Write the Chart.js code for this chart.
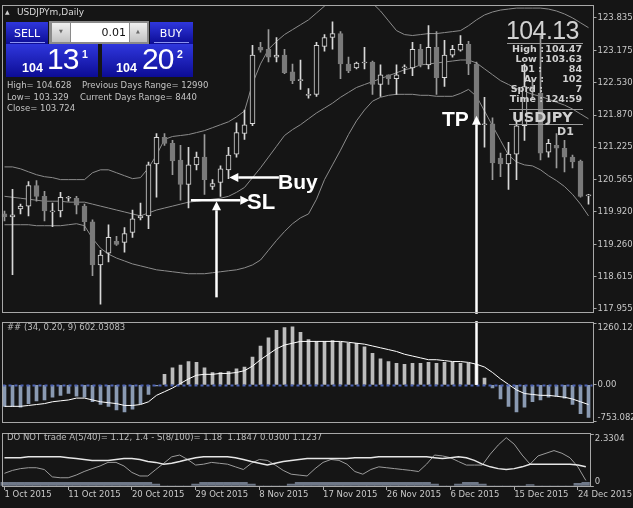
<!DOCTYPE html>
<html>
<head>
<meta charset="utf-8">
<title>USDJPYm,Daily</title>
<script src="https://cdn.jsdelivr.net/npm/chart.js@4.4.1/dist/chart.umd.min.js"></script>
<style>
  html, body { margin: 0; padding: 0; background: #151515; }
  body { width: 633px; height: 508px; position: relative; overflow: hidden; font-family: "DejaVu Sans", sans-serif; }
  canvas { position: absolute; left: 0; }
  #cMain { top: 0; }
  #cMacd { top: 317px; }
  #cLow { top: 428px; }
  .tx { position: absolute; white-space: nowrap; line-height: 1; transform: translateY(-50%); color: #c4c4c4; font-size: 8.5px; z-index: 6; }
  .r { transform: translate(-100%, -50%); }
  .c { transform: translate(-50%, -50%); }
  .b { font-weight: bold; font-size: 9.5px; color: #d0d0d0; }
  .box { position: absolute; z-index: 4; }
  .blue { background: linear-gradient(#2f37dd, #0c0c94); }
  .btn { background: linear-gradient(#f0f0f0, #c2c2c2); }
  .big { font-family: "Liberation Sans", sans-serif; color: #fff; }
  .note { font-family: "Liberation Sans", sans-serif; font-weight: bold; color: #fff; }
</style>
</head>
<body>
<canvas id="cMain" width="633" height="318"></canvas>
<canvas id="cMacd" width="633" height="111"></canvas>
<canvas id="cLow" width="633" height="80"></canvas>

<!-- header -->
<div class="tx" style="left:5px;top:12px;font-size:6px;color:#d0d0d0">&#9650;</div>
<div class="tx" style="left:17px;top:12px;font-size:9px;color:#d8d8d8">USDJPYm,Daily</div>

<!-- trade panel -->
<div class="box blue" style="left:6px;top:22px;width:42px;height:22px"></div>
<div class="box blue" style="left:150px;top:22px;width:43px;height:22px"></div>
<div class="box blue" style="left:6px;top:44px;width:92px;height:33px"></div>
<div class="box blue" style="left:102px;top:44px;width:91px;height:33px"></div>
<div class="box" style="left:10px;top:42px;width:35px;height:1px;background:#8c94f2"></div>
<div class="box" style="left:154px;top:42px;width:35px;height:1px;background:#8c94f2"></div>
<div class="box" style="left:49px;top:21px;width:100px;height:23px;background:#8a8a8a"></div>
<div class="box btn" style="left:52px;top:23px;width:18px;height:19px"></div>
<div class="box" style="left:71px;top:23px;width:58px;height:19px;background:#ffffff"></div>
<div class="box btn" style="left:130px;top:23px;width:17px;height:19px"></div>
<div class="tx c" style="left:61px;top:31px;font-size:5px;color:#6a6a6a">&#9660;</div>
<div class="tx c" style="left:138px;top:31px;font-size:5px;color:#6a6a6a">&#9650;</div>
<div class="tx r" style="left:126px;top:32px;font-size:11px;color:#111">0.01</div>
<div class="tx c" style="left:27px;top:33px;font-size:11px;color:#fff">SELL</div>
<div class="tx c" style="left:171px;top:33px;font-size:11px;color:#fff">BUY</div>
<div class="tx big" style="left:22px;top:68px;font-size:12.5px;font-weight:bold">104</div>
<div class="tx big" style="left:47px;top:59px;font-size:30px;letter-spacing:-1px">13</div>
<div class="tx big" style="left:82px;top:54px;font-size:10.5px;font-weight:bold">1</div>
<div class="tx big" style="left:116px;top:68px;font-size:12.5px;font-weight:bold">104</div>
<div class="tx big" style="left:142px;top:59px;font-size:30px;letter-spacing:-1px">20</div>
<div class="tx big" style="left:177px;top:54px;font-size:10.5px;font-weight:bold">2</div>
<div class="tx" style="left:7px;top:85px">High= 104.628</div>
<div class="tx" style="left:82px;top:85px">Previous Days Range= 12990</div>
<div class="tx" style="left:7px;top:97px">Low= 103.329</div>
<div class="tx" style="left:80px;top:97px">Current Days Range= 8440</div>
<div class="tx" style="left:7px;top:108px">Close= 103.724</div>

<!-- info block -->
<div class="tx" style="left:506px;top:30px;font-family:'Liberation Sans';font-size:25px;letter-spacing:-0.6px;color:#d2d2d2">104.13</div>
<div class="box" style="left:507px;top:43px;width:76px;height:1px;background:#9a9a9a"></div>
<div class="tx b r" style="left:544px;top:49px">High :</div><div class="tx b r" style="left:582px;top:49px">104.47</div>
<div class="tx b r" style="left:544px;top:59px">Low :</div><div class="tx b r" style="left:582px;top:59px">103.63</div>
<div class="tx b r" style="left:542px;top:69px">D1 :</div><div class="tx b r" style="left:582px;top:69px">84</div>
<div class="tx b r" style="left:544px;top:79px">Av :</div><div class="tx b r" style="left:582px;top:79px">102</div>
<div class="tx b r" style="left:543px;top:89px">Sprd :</div><div class="tx b r" style="left:582px;top:89px">7</div>
<div class="tx b r" style="left:543px;top:99px">Time :</div><div class="tx b r" style="left:582px;top:99px">124:59</div>
<div class="box" style="left:509px;top:109px;width:74px;height:1px;background:#9a9a9a"></div>
<div class="tx b" style="left:512px;top:117px;font-size:14.5px">USDJPY</div>
<div class="box" style="left:509px;top:124px;width:74px;height:1px;background:#9a9a9a"></div>
<div class="tx b" style="left:557px;top:131px;font-size:11px">D1</div>

<!-- trade notes -->
<div class="tx note" style="left:278px;top:181px;font-size:21px">Buy</div>
<div class="tx note" style="left:247px;top:202px;font-size:22px">SL</div>
<div class="tx note" style="left:442px;top:118px;font-size:21px">TP</div>

<!-- sub window titles -->
<div class="tx" style="left:7px;top:327px;color:#bcbcbc">## (34, 0.20, 9) 602.03083</div>
<div class="tx" style="left:7px;top:437px;color:#bcbcbc">DO NOT trade A(5/40)= 1.12, 1.4 - S(8/100)= 1.18&nbsp; 1.1847 0.0300 1.1237</div>

<script>
// trading days (Sunday..Friday bars)
const octDays = [1,2,4,5,6,7,8,9,11,12,13,14,15,16,18,19,20,21,22,23,25,26,27,28,29,30];
const novDays = [1,2,3,4,5,6,8,9,10,11,12,13,15,16,17,18,19,20,22,23,24,25,26,27,29,30];
const decDays = [1,2,3,4,6,7,8,9,10,11,13,14,15,16,17,18,20,21,22,23,24,25];
const dates = [
  ...octDays.map(d => d + ' Oct 2015'),
  ...novDays.map(d => d + ' Nov 2015'),
  ...decDays.map(d => d + ' Dec 2015')
];

// price candles
const openP = [119.875,119.816,119.974,120.033,120.449,120.231,119.934,119.934,120.192,120.192,
  120.033,119.717,118.845,119.083,119.321,119.301,119.499,119.796,119.835,120.885,
  121.420,121.301,120.964,120.469,120.865,121.023,120.429,120.509,120.766,121.083,
  121.499,121.697,123.241,123.201,123.043,123.083,122.746,122.588,122.291,122.291,
  123.261,123.439,123.518,122.904,122.825,122.924,122.944,122.489,122.687,122.607,
  122.825,122.825,123.201,122.885,123.241,122.627,123.083,123.182,123.300,122.904,
  121.697,121.697,121.004,120.885,121.083,121.657,122.449,122.310,121.122,121.261,
  121.202,121.023,120.944,120.251];
const highP = [119.934,120.370,120.073,120.528,120.548,120.330,120.093,120.311,120.231,120.231,
  120.073,119.756,119.142,119.657,119.420,119.598,119.954,120.093,120.924,121.499,
  121.499,121.360,121.261,121.221,121.122,121.479,120.568,120.845,121.221,121.716,
  121.974,123.281,123.340,123.597,123.439,123.201,122.904,122.984,122.409,123.340,
  123.498,123.756,123.558,123.043,122.944,123.241,122.964,122.885,122.687,122.885,
  122.885,123.340,123.300,123.677,123.558,123.380,123.281,123.479,123.360,122.944,
  122.231,121.815,121.103,121.320,121.756,122.904,122.600,123.479,121.380,121.499,
  121.360,121.063,120.964,120.271];
const lowP = [119.736,118.647,119.875,119.835,120.132,119.736,119.618,119.816,120.132,119.875,
  119.538,118.628,118.053,118.905,119.241,119.103,119.400,119.756,119.578,120.212,
  121.261,120.667,120.152,119.994,120.766,120.271,120.370,120.231,120.588,121.023,
  121.380,121.657,123.142,122.944,122.944,122.706,122.508,122.390,122.211,122.251,
  123.162,123.201,122.607,122.726,122.805,122.805,122.291,122.251,122.489,122.291,
  122.706,122.667,122.845,122.805,122.291,122.449,123.043,123.162,122.687,121.657,
  121.221,120.568,120.627,120.370,120.568,121.360,122.200,120.964,121.023,120.806,
  120.726,120.806,120.212,120.073];
const closeP = [119.816,119.855,120.033,120.449,120.231,119.934,119.915,120.212,120.212,120.053,
  119.717,118.845,119.043,119.400,119.261,119.479,119.776,119.835,120.865,121.420,
  121.301,120.944,120.469,120.865,121.023,120.568,120.489,120.786,121.063,121.518,
  121.677,123.083,123.182,123.043,123.083,122.726,122.568,122.568,122.271,123.281,
  123.439,123.518,122.904,122.766,122.924,122.934,122.489,122.687,122.607,122.687,
  122.835,123.201,122.885,123.241,122.627,123.083,123.201,123.300,122.904,121.716,
  121.677,120.905,120.885,121.083,121.657,122.449,122.410,121.103,121.301,121.202,
  121.023,120.924,120.231,120.241];

// bollinger bands
const bbUpper = [120.825,120.825,120.786,120.726,120.667,120.627,120.608,120.568,120.568,120.568,
  120.568,120.707,120.766,120.766,120.707,120.647,120.588,120.608,120.806,121.063,
  121.380,121.439,121.459,121.479,121.518,121.558,121.617,121.677,121.736,121.835,
  121.954,122.508,122.904,123.201,123.360,123.498,123.597,123.696,123.795,123.934,
  124.073,124.191,124.251,124.290,124.271,124.211,124.132,123.974,123.776,123.578,
  123.498,123.479,123.498,123.518,123.518,123.538,123.558,123.578,123.677,123.795,
  123.894,123.954,123.993,124.013,124.033,124.033,124.033,124.033,124.013,123.974,
  123.914,123.835,123.736,123.637];
const bbMiddle = [120.231,120.212,120.192,120.172,120.152,120.132,120.132,120.132,120.113,120.113,
  120.113,120.073,120.033,119.994,119.954,119.915,119.875,119.835,119.895,119.954,
  119.994,120.033,120.073,120.113,120.132,120.152,120.172,120.192,120.231,120.311,
  120.410,120.608,120.806,121.023,121.241,121.459,121.578,121.677,121.796,121.914,
  122.013,122.112,122.231,122.330,122.429,122.489,122.548,122.607,122.667,122.726,
  122.786,122.825,122.885,122.904,122.924,122.944,122.964,122.984,122.984,122.924,
  122.805,122.687,122.568,122.489,122.409,122.350,122.291,122.251,122.192,122.132,
  122.073,121.994,121.895,121.796];
const bbLower = [119.657,119.657,119.657,119.657,119.637,119.637,119.637,119.637,119.657,119.677,
  119.637,119.380,119.182,119.063,118.984,118.925,118.865,118.826,118.786,118.746,
  118.727,118.707,118.687,118.667,118.667,118.667,118.687,118.707,118.727,118.746,
  118.786,118.845,118.944,119.142,119.340,119.519,119.677,119.796,119.875,120.172,
  120.568,120.865,121.162,121.479,121.756,121.974,122.152,122.231,122.271,122.291,
  122.291,122.291,122.271,122.271,122.251,122.251,122.251,122.310,122.390,122.251,
  121.954,121.657,121.360,121.063,120.924,120.865,120.845,120.766,120.647,120.548,
  120.429,120.271,120.073,119.835];
const priceTicks = [123.835,123.175,122.530,121.870,121.225,120.565,119.920,119.260,118.615,117.955];

// oscillator window
const histVals = [-436,-436,-455,-380,-324,-306,-250,-212,-175,-231,
  -250,-343,-399,-436,-511,-548,-492,-380,-194,-20,
  216,347,403,477,459,347,254,254,272,328,
  365,570,794,962,1111,1167,1185,1074,925,887,
  887,906,869,850,850,775,645,533,477,440,
  421,440,440,459,440,459,459,440,440,421,
  142,-63,-287,-436,-548,-455,-343,-306,-250,-231,
  -268,-399,-585,-660];
const signalVals = [-436,-436,-436,-418,-399,-380,-343,-324,-306,-268,
  -268,-306,-343,-362,-380,-418,-418,-399,-343,-212,
  -138,-63,30,123,198,216,216,235,235,254,
  291,384,514,626,738,813,850,887,887,887,
  887,887,887,869,850,831,794,757,720,682,
  626,589,552,514,514,496,477,477,459,421,
  365,254,123,11,-101,-175,-194,-212,-212,-231,
  -250,-287,-343,-399];
const macdTicks = [1260.121, 0, -753.082];

// "do not trade" window
const slowLine = [1.27,1.27,1.27,1.31,1.31,1.31,1.31,1.31,1.27,1.23,
  1.19,1.15,1.15,1.15,1.19,1.23,1.23,1.19,1.10,1.06,
  0.98,1.02,1.10,1.19,1.27,1.31,1.31,1.31,1.31,1.27,
  1.19,1.10,1.02,0.94,1.02,1.10,1.15,1.19,1.23,1.23,
  1.23,1.23,1.23,1.23,1.27,1.27,1.27,1.31,1.31,1.31,
  1.31,1.31,1.31,1.31,1.27,1.23,1.27,1.31,1.27,1.15,
  0.98,0.86,0.78,0.74,0.78,0.86,0.98,0.98,0.98,0.98,
  0.98,0.98,0.94,0.86];
const fastLine = [0.57,0.70,0.78,0.82,0.82,0.74,0.41,0.37,0.37,0.49,
  0.65,0.78,0.90,1.06,1.06,0.90,0.61,0.45,0.45,0.74,
  1.02,1.31,1.39,1.19,0.94,0.98,1.06,1.02,0.98,0.86,
  0.74,1.02,1.19,1.15,0.94,0.70,0.53,0.49,0.45,0.78,
  1.06,1.19,1.15,0.98,0.65,0.53,0.74,0.86,0.82,0.78,
  0.74,0.70,0.65,0.98,1.39,1.35,1.27,1.10,0.94,0.94,
  0.94,1.43,1.84,2.17,1.88,1.39,0.98,1.35,1.47,1.59,
  1.47,1.27,0.86,0.25];
const zoneVals = [0.16,0.16,0.16,0.16,0.16,0.16,0.16,0.16,0.16,0.16,
  0.16,0.16,0.16,0.16,0.16,0.16,0.16,0.16,0.16,0.09,
  0,0,0,0,0.09,0.16,0.16,0.16,0.16,0.16,
  0.16,0.09,0,0,0,0,0.09,0.16,0.16,0.16,
  0.16,0.16,0.16,0.16,0.16,0.16,0.16,0.16,0.16,0.16,
  0.16,0.16,0.16,0.16,0.09,0,0,0.09,0.16,0.16,
  0.09,0,0,0,0,0,0.06,0,0,0,
  0,0,0.12,0.16];
const lowTicks = [2.3304, 0];

// colours
const BG = '#151515', FRAME = '#a8a8a8', LABEL = '#c8c8c8';
const BULL = '#d8d8d8', BEAR = '#7a7a7a', BEAR_WICK = '#9a9a9a', BAND = '#8c8c8c';

const bull = openP.map((o, i) => closeP[i] >= o || Math.abs(closeP[i] - o) < 0.03);
const bodies = openP.map((o, i) => [o, closeP[i]]);
const wicks = lowP.map((l, i) => [l, highP[i]]);

Chart.defaults.font.family = 'DejaVu Sans';
Chart.defaults.animation = false;

// panel frame
const frame = {
  id: 'frame',
  afterDraw(c) {
    const a = c.chartArea, ctx = c.ctx;
    ctx.save();
    ctx.strokeStyle = FRAME;
    ctx.lineWidth = 1;
    ctx.strokeRect(2.5, Math.round(a.top) - 0.5, Math.round(a.right) - 2, Math.round(a.bottom - a.top) + 1);
    ctx.restore();
  }
};

// MT4 puts the edge values inside the window
const edgeLabels = {
  id: 'edgeLabels',
  beforeDraw(c) {
    const s = c.scales.y;
    const items = s.getLabelItems();
    items.forEach((it, k) => {
      const v = s.ticks[k] && s.ticks[k].value;
      if (v === s.max) it.options.textBaseline = 'top';
      if (v === s.min) it.options.textBaseline = 'bottom';
    });
  }
};

function drawArrow(ctx, x1, y1, x2, y2, head) {
  const ang = Math.atan2(y2 - y1, x2 - x1), L = head ? 9 : 0, W = 4.5;
  const bx = x2 - L * Math.cos(ang), by = y2 - L * Math.sin(ang);
  ctx.beginPath(); ctx.moveTo(x1, y1); ctx.lineTo(bx, by); ctx.stroke();
  if (!head) return;
  ctx.beginPath();
  ctx.moveTo(x2, y2);
  ctx.lineTo(bx - W * Math.sin(ang), by + W * Math.cos(ang));
  ctx.lineTo(bx + W * Math.sin(ang), by - W * Math.cos(ang));
  ctx.closePath(); ctx.fill();
}

// trade arrows, anchored on bar index / value
const notes = {
  id: 'notes',
  afterDatasetsDraw(c, args, o) {
    if (!o.arrows) return;
    const {ctx, chartArea: a, scales: {x, y}} = c;
    const py = v => v === 'top' ? a.top - 2 : v === 'bottom' ? a.bottom + 2 : y.getPixelForValue(v);
    ctx.save();
    ctx.strokeStyle = '#ffffff'; ctx.fillStyle = '#ffffff'; ctx.lineWidth = 2.5;
    o.arrows.forEach(ar => {
      drawArrow(ctx, x.getPixelForValue(ar.from[0]), py(ar.from[1]),
                x.getPixelForValue(ar.to[0]), py(ar.to[1]), ar.head !== false);
    });
    ctx.restore();
  }
};

// dotted zero level
const zeroLevel = {
  id: 'zeroLevel',
  afterDatasetsDraw(c, args, o) {
    if (!o.color) return;
    const {ctx, chartArea: a, scales: {y}} = c;
    const yy = Math.round(y.getPixelForValue(0)) + 0.5;
    ctx.save();
    ctx.strokeStyle = o.color; ctx.lineWidth = 2; ctx.setLineDash([3, 3]);
    ctx.beginPath(); ctx.moveTo(a.left + 2, yy); ctx.lineTo(a.right, yy); ctx.stroke();
    ctx.restore();
  }
};

function yAxis(min, max, ticks, fmt) {
  return {
    position: 'right', min: min, max: max,
    afterBuildTicks: s => { s.ticks = ticks.map(v => ({ value: v })); },
    afterFit: s => { s.width = 40.5; },
    grid: { drawOnChartArea: false, drawTicks: true, tickLength: 4, tickColor: FRAME, tickWidth: 1 },
    border: { display: false },
    ticks: { color: LABEL, padding: 1, autoSkip: false, font: { size: 8.5 }, callback: fmt }
  };
}
const hiddenX = { display: false, offset: true };
const basePlugins = { legend: { display: false }, tooltip: { enabled: false } };

new Chart(document.getElementById('cMain'), {
  type: 'bar',
  data: {
    labels: dates,
    datasets: [
      { type: 'bar', label: 'Body', data: bodies, grouped: false, barThickness: 5, minBarLength: 1,
        borderWidth: 1, borderSkipped: false, order: 1,
        backgroundColor: bull.map(b => b ? BG : BEAR), borderColor: bull.map(b => b ? BULL : BEAR) },
      { type: 'bar', label: 'Wick', data: wicks, grouped: false, barThickness: 1, order: 2,
        backgroundColor: bull.map(b => b ? BULL : BEAR_WICK) },
      { type: 'line', label: 'Upper', data: bbUpper, borderColor: BAND, borderWidth: 1, pointRadius: 0, order: 3 },
      { type: 'line', label: 'Middle', data: bbMiddle, borderColor: BAND, borderWidth: 1, pointRadius: 0, order: 3 },
      { type: 'line', label: 'Lower', data: bbLower, borderColor: BAND, borderWidth: 1, pointRadius: 0, order: 3 }
    ]
  },
  options: {
    responsive: false, devicePixelRatio: 1,
    layout: { padding: { left: 0.5, top: 3, right: 0, bottom: 3 } },
    scales: {
      x: hiddenX,
      y: yAxis(117.896, 124.073, priceTicks, v => v.toFixed(3))
    },
    plugins: Object.assign({}, basePlugins, {
      notes: { arrows: [
        { from: [34.3, 120.61], to: [28.1, 120.61] },
        { from: [23.3, 120.15], to: [30.6, 120.15] },
        { from: [26.5, 118.19], to: [26.5, 120.13] },
        { from: [59, 'bottom'], to: [59, 121.86] }
      ] }
    })
  },
  plugins: [frame, edgeLabels, notes]
});

new Chart(document.getElementById('cMacd'), {
  type: 'bar',
  data: {
    labels: dates,
    datasets: [
      { type: 'line', label: 'Signal', data: signalVals, borderColor: '#ffffff', borderWidth: 1, pointRadius: 0, order: 0 },
      { type: 'bar', label: 'Histogram', data: histVals, barThickness: 3, order: 1,
        backgroundColor: histVals.map(v => v >= 0 ? '#bcbcbc' : '#8a9ab2') }
    ]
  },
  options: {
    responsive: false, devicePixelRatio: 1,
    layout: { padding: { left: 0.5, top: 1, right: 0, bottom: 2 } },
    scales: {
      x: hiddenX,
      y: yAxis(-753.082, 1260.121, macdTicks, v => v === 0 ? '0.00' : v.toFixed(3))
    },
    plugins: Object.assign({}, basePlugins, {
      zeroLevel: { color: '#4d63b4' },
      notes: { arrows: [ { from: [59, 'top'], to: [59, 0], head: false } ] }
    })
  },
  plugins: [frame, edgeLabels, zeroLevel, notes]
});

new Chart(document.getElementById('cLow'), {
  type: 'bar',
  data: {
    labels: dates,
    datasets: [
      { type: 'line', label: 'A', data: slowLine, borderColor: '#e6e6e6', borderWidth: 1.5, pointRadius: 0, order: 0 },
      { type: 'line', label: 'S', data: fastLine, borderColor: '#9c9c9c', borderWidth: 1, pointRadius: 0, order: 1 },
      { type: 'bar', label: 'Zone', data: zoneVals, barPercentage: 1, categoryPercentage: 1, order: 2,
        backgroundColor: '#6f7888' }
    ]
  },
  options: {
    responsive: false, devicePixelRatio: 1,
    layout: { padding: { left: 0.5, top: 1, right: 0, bottom: 4 } },
    scales: {
      x: {
        type: 'category', offset: true,
        afterBuildTicks: s => { s.ticks = s.ticks.filter(t => t.value % 8 === 0); },
        afterFit: s => { s.height = 18; },
        grid: { display: true, drawOnChartArea: false, drawTicks: true, tickLength: 4, tickColor: FRAME, offset: false },
        border: { display: false },
        ticks: { color: LABEL, padding: 0, align: 'start', maxRotation: 0, autoSkip: false, font: { size: 8.5 } }
      },
      y: yAxis(0, 2.3304, lowTicks, v => v === 0 ? '0' : v.toFixed(4))
    },
    plugins: basePlugins
  },
  plugins: [frame, edgeLabels]
});
</script>
</body>
</html>
